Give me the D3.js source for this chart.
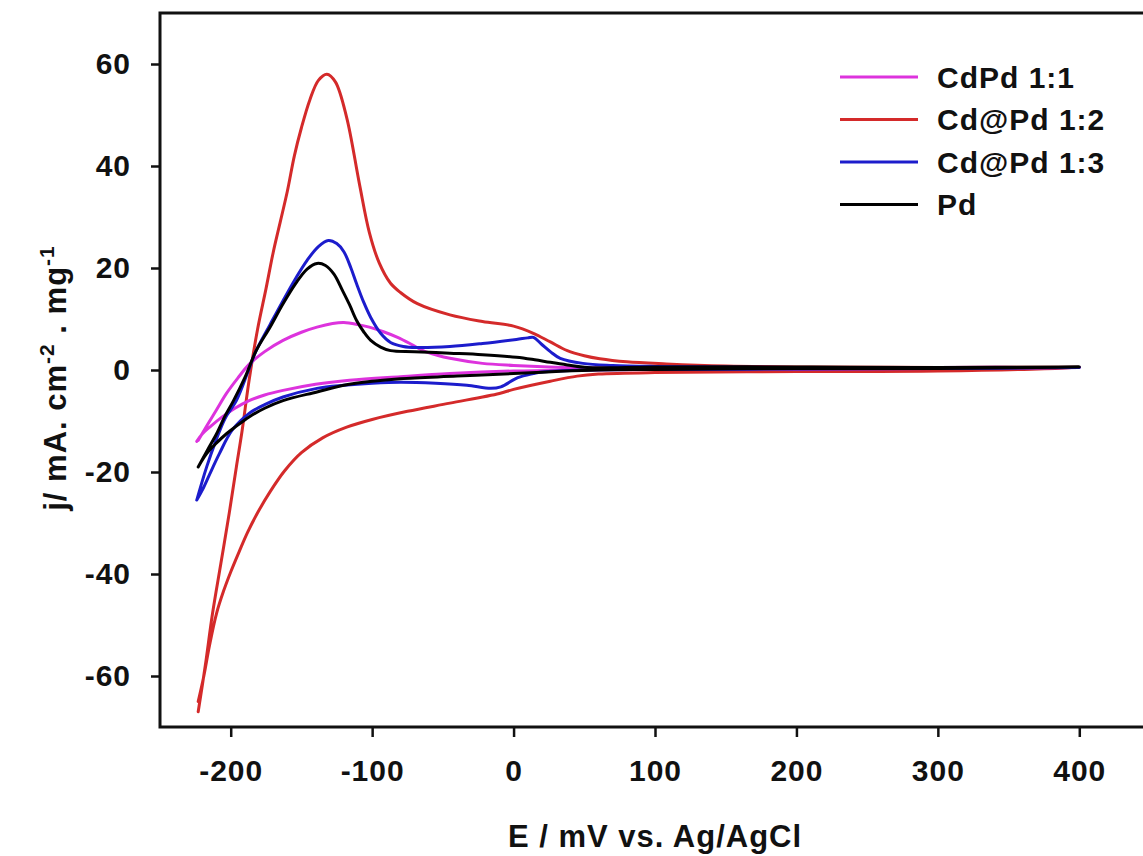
<!DOCTYPE html>
<html lang="en">
<head>
    <meta charset="UTF-8">
    <title>CV curves</title>
    <script src="https://d3js.org/d3.v7.min.js"></script>
    <style>
        body{ margin:0; background:#fff; }
        text{
            font-family: Arial, 'Liberation Sans', sans-serif;
            font-weight: bold;
            fill: #111;
            letter-spacing: 1px;
        }
        .tick text{ font-size: 30px; }
        .label{ font-size: 31px; }
        .legend text{ font-size: 30px; }
    </style>
</head>
<body>
<svg width="1143" height="856"></svg>
<script>
    const seriesNames = ["CdPd 1:1", "Cd@Pd 1:2", "Cd@Pd 1:3", "Pd"];
    const seriesColors = ["#dd33dd", "#d42a2a", "#1c1ccc", "#000000"];

    // [E (mV), j] going round each loop: anodic scan on top, then back
    const cdpd11 = [[-223,-13.8],[-217,-11],[-210,-7.8],[-203,-4.6],[-195,-1.6],[-187,1.1],[-176,3.6],[-163,5.8],[-150,7.4],[-139,8.4],[-128,9.1],[-120,9.3],
        [-110,8.9],[-102,8.4],[-92,7.5],[-82,6.4],[-72,5],[-64,3.8],[-54,2.9],[-45,2.3],[-22,1.3],[0,0.9],[25,0.6],[60,0.4],[100,0.5],[200,0.4],[300,0.5],[400,0.5],
        [300,0.3],[200,0.2],[100,0.1],[50,0],[0,-0.2],[-45,-0.7],[-80,-1.3],[-116,-2],[-140,-2.8],[-163,-4],[-176,-4.9],[-187,-6],[-197,-7.5],[-206,-9.2],[-214,-11],[-220,-12.5],[-224,-14]];
    const cdpd12 = [[-223,-67],[-218,-58],[-213,-48],[-207,-38],[-201,-28],[-196,-19],[-192,-12],[-187,-2],[-181,8],[-175,16],[-170,23],[-165,29],[-160,35],[-155,42],
        [-150,47.5],[-144,53],[-138,56.8],[-132,58],[-126,56.5],[-118,49.5],[-109,36.5],[-102,27],[-95,21],[-87,17],[-80,15.2],[-68,13],[-45,10.8],[-22,9.5],[0,8.6],[14,7.2],
        [26,5.5],[38,3.8],[50,2.8],[61,2.2],[80,1.6],[108,1.2],[150,0.8],[200,0.6],[300,0.5],[400,0.5],
        [300,-0.2],[200,-0.3],[100,-0.5],[60,-0.8],[45,-1.2],[26,-2.2],[0,-3.8],[-10,-4.6],[-45,-6.5],[-75,-8.1],[-100,-9.7],[-118,-11.2],[-135,-13.3],[-150,-16.2],
        [-162,-19.8],[-172,-23.8],[-181,-28],[-188,-31.8],[-194,-35.6],[-200,-39.6],[-205,-43.3],[-210,-47.7],[-215,-54],[-219,-60],[-223,-65]];
    const cdpd13 = [[-224,-25.5],[-217,-19],[-210,-13.5],[-204,-9.5],[-196,-6],[-188,-0.5],[-182,3.8],[-172,9],[-163,13.6],[-154,18],[-146,21.5],[-138,24.2],
        [-131,25.4],[-125,24.8],[-120,23.2],[-115,20],[-111,16.9],[-106,13.3],[-101,10.3],[-94,7.2],[-87,5.4],[-78,4.6],[-68,4.4],[-45,4.6],[-22,5.2],[2,6],[10,6.3],
        [14,6.4],[20,5],[26,3.6],[33,2.3],[49,1.3],[70,0.9],[100,0.7],[200,0.5],[300,0.5],[400,0.5],
        [300,0.3],[200,0.2],[100,0.1],[50,0],[20,-0.4],[14,-0.7],[3,-1.5],[-9,-3.3],[-16,-3.6],[-33,-3],[-55,-2.6],[-80,-2.4],[-100,-2.6],[-120,-3],[-139,-3.6],
        [-163,-5.3],[-176,-6.8],[-187,-8.5],[-199,-11.8],[-208,-16.4],[-215,-20.5],[-220,-23.5],[-224,-25.5]];
    const pd = [[-223,-19],[-216,-15.5],[-210,-12.5],[-204,-9],[-198,-6],[-190,-1.5],[-182,3.8],[-172,8.5],[-163,13],[-154,17],[-146,19.8],[-139,20.9],[-133,20.5],
        [-127,18.8],[-121,15.6],[-116,12.8],[-111,9.7],[-106,7.5],[-101,5.8],[-94,4.5],[-87,3.8],[-70,3.6],[-45,3.3],[-22,3],[2,2.5],[15,2],[26,1.5],[38,1],[52,0.5],
        [100,0.6],[200,0.6],[300,0.5],[400,0.6],
        [300,0.3],[200,0.3],[100,0.1],[60,0],[30,-0.3],[0,-0.7],[-40,-1.2],[-80,-1.7],[-100,-2.2],[-120,-3],[-139,-4.3],[-163,-6],[-176,-7.5],[-187,-9.2],[-196,-11],
        [-203,-12.5],[-210,-14.3],[-217,-16.4],[-223,-19]];
    const seriesData = [cdpd11, cdpd12, cdpd13, pd];
    const drawOrder = [1, 0, 2, 3];

    const xTicks = [-200, -100, 0, 100, 200, 300, 400];
    const yTicks = [-60, -40, -20, 0, 20, 40, 60];

    const plotL = 160, plotR = 1150, plotT = 13, plotB = 727;
    const scaleX = d3.scaleLinear().domain([-250, 450]).range([plotL, plotR]);
    const scaleY = d3.scaleLinear().domain([-70, 70]).range([plotB, plotT]);
    const svg = d3.select("svg");

    // curves
    const line = d3.line()
        .x(d => scaleX(d[0]))
        .y(d => scaleY(d[1]))
        .curve(d3.curveCatmullRom.alpha(0.5));
    drawOrder.forEach(i => {
        svg.append("path")
            .attr("d", line(seriesData[i]))
            .attr("fill", "none")
            .attr("stroke", seriesColors[i])
            .attr("stroke-width", 3)
            .attr("stroke-linejoin", "round")
            .attr("stroke-linecap", "round");
    });

    // frame
    svg.append("rect")
        .attr("x", plotL).attr("y", plotT)
        .attr("width", plotR - plotL).attr("height", plotB - plotT)
        .attr("fill", "none").attr("stroke", "#111").attr("stroke-width", 3);

    // axes, plain hyphen for negatives like the original
    const fmt = d => String(d);
    const xG = svg.append("g").attr("transform", `translate(0,${plotB})`)
        .call(d3.axisBottom(scaleX).tickValues(xTicks).tickFormat(fmt).tickSize(10).tickPadding(23).tickSizeOuter(0));
    const yG = svg.append("g").attr("transform", `translate(${plotL},0)`)
        .call(d3.axisLeft(scaleY).tickValues(yTicks).tickFormat(fmt).tickSize(9).tickPadding(20).tickSizeOuter(0));
    [xG, yG].forEach(g => {
        g.select(".domain").remove();
        g.selectAll(".tick line").attr("stroke", "#111").attr("stroke-width", 2.5);
        g.selectAll(".tick text").attr("fill", "#111");
    });

    // titles
    svg.append("text").attr("class", "label")
        .attr("text-anchor", "middle")
        .attr("x", (plotL + plotR) / 2).attr("y", 847)
        .text("E / mV vs. Ag/AgCl");
    const yLab = svg.append("text").attr("class", "label")
        .attr("text-anchor", "middle")
        .attr("transform", "translate(66,378) rotate(-90)");
    yLab.append("tspan").text("j/ mA. cm");
    yLab.append("tspan").attr("dy", -12).attr("font-size", 21).text("-2");
    yLab.append("tspan").attr("dy", 12).text(" . mg");
    yLab.append("tspan").attr("dy", -12).attr("font-size", 21).text("-1");

    // legend
    const legend = svg.append("g").attr("class", "legend");
    seriesNames.forEach((name, i) => {
        const y = 77 + i * 42.5;
        legend.append("line")
            .attr("x1", 840).attr("x2", 918).attr("y1", y).attr("y2", y)
            .attr("stroke", seriesColors[i]).attr("stroke-width", 3);
        legend.append("text")
            .attr("x", 937).attr("y", y).attr("dy", "0.35em")
            .text(name);
    });
</script>
</body>
</html>
